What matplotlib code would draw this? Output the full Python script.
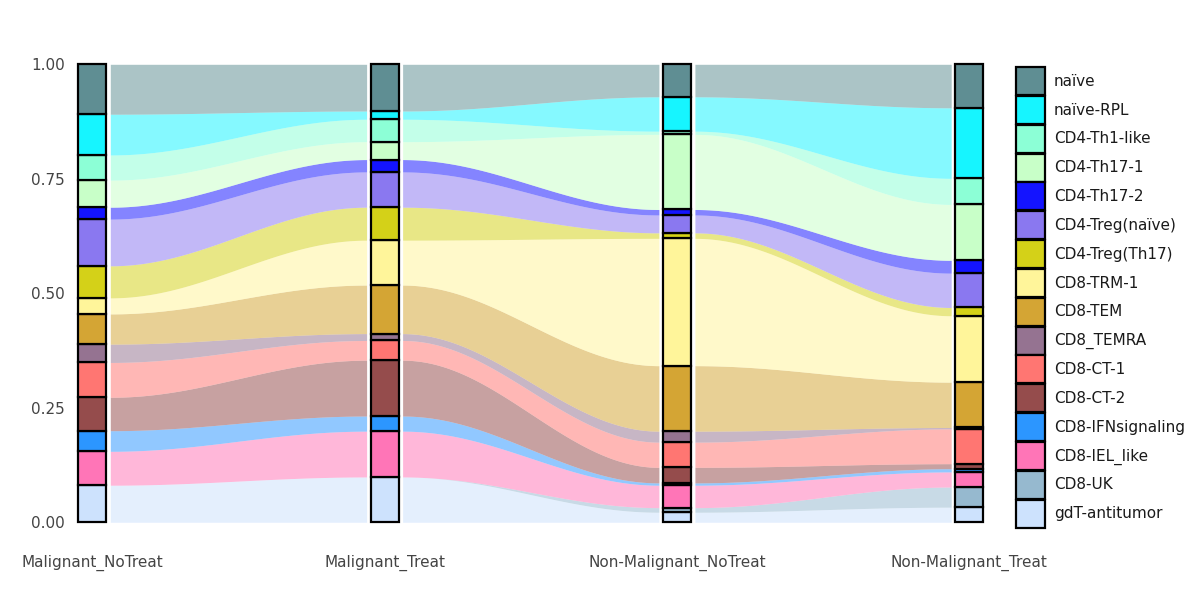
#alluvial-style composition of T cell subsets across the four groups

import numpy as np
import matplotlib.pyplot as plt
from matplotlib.patches import Patch

## data
groups = ['Malignant_NoTreat', 'Malignant_Treat', 'Non-Malignant_NoTreat', 'Non-Malignant_Treat']

# listed top of the stack first (same as legend order)
cell_types = ['naïve', 'naïve-RPL', 'CD4-Th1-like', 'CD4-Th17-1', 'CD4-Th17-2',
              'CD4-Treg(naïve)', 'CD4-Treg(Th17)', 'CD8-TRM-1', 'CD8-TEM', 'CD8_TEMRA',
              'CD8-CT-1', 'CD8-CT-2', 'CD8-IFNsignaling', 'CD8-IEL_like', 'CD8-UK',
              'gdT-antitumor']

colors = ['#5F8E93', '#16F5FF', '#8CFFD6', '#C8FFC8', '#1414FF',
          '#8A78F0', '#D4D118', '#FFF59A', '#D4A534', '#957391',
          '#FF7672', '#954C4C', '#2C96FF', '#FF75B7', '#96B9CF',
          '#CDE2FD']

# proportions per group, same order as cell_types
malignant_notreat = [0.109, 0.089, 0.055, 0.059, 0.026, 0.102, 0.070, 0.035,
                     0.066, 0.040, 0.076, 0.073, 0.045, 0.074, 0.000, 0.081]
malignant_treat = [0.102, 0.018, 0.049, 0.039, 0.027, 0.077, 0.072, 0.098,
                   0.106, 0.015, 0.043, 0.122, 0.033, 0.100, 0.000, 0.099]
nonmalignant_notreat = [0.071, 0.075, 0.007, 0.164, 0.012, 0.039, 0.012, 0.278,
                        0.143, 0.024, 0.055, 0.034, 0.005, 0.049, 0.010, 0.022]
nonmalignant_treat = [0.095, 0.154, 0.057, 0.122, 0.028, 0.075, 0.018, 0.145,
                      0.099, 0.003, 0.076, 0.011, 0.007, 0.033, 0.044, 0.033]

props = np.array([malignant_notreat, malignant_treat,
                  nonmalignant_notreat, nonmalignant_treat])  # groups x types

## stacking (bottom = last type)
props_bu = props[:, ::-1]
tops = np.cumsum(props_bu, axis=1)
bottoms = tops - props_bu
colors_bu = colors[::-1]

## figure
fig = plt.figure(figsize=(12, 6), dpi=100)
ax = fig.add_axes([70 / 1200, 77.7 / 600, 930 / 1200, 458 / 600])

xpos = np.arange(len(groups))
bar_w = 0.096
flow_gap = 0.0616

# flows between neighbouring bars
for i in range(len(groups) - 1):
    xa = xpos[i] + flow_gap
    xb = xpos[i + 1] - flow_gap
    xs = np.linspace(xa, xb, 200)
    s = (1 - np.cos(np.pi * (xs - xa) / (xb - xa))) / 2
    for k in range(len(colors_bu)):
        lo = bottoms[i, k] + (bottoms[i + 1, k] - bottoms[i, k]) * s
        hi = tops[i, k] + (tops[i + 1, k] - tops[i, k]) * s
        ax.fill_between(xs, lo, hi, color=colors_bu[k], alpha=0.52, linewidth=0, zorder=1)

# stacked bars
for i in range(len(groups)):
    for k in range(len(colors_bu)):
        if props_bu[i, k] <= 0:
            continue
        ax.bar(xpos[i], props_bu[i, k], bottom=bottoms[i, k], width=bar_w,
               color=colors_bu[k], edgecolor='black', linewidth=1.6, zorder=3,
               clip_on=False)

ax.set_xlim((70 - 92.3) / 292.3, (1000 - 92.3) / 292.3)
ax.set_ylim(0, 1)
ax.set_yticks([0, 0.25, 0.5, 0.75, 1.0])
ax.set_yticklabels(['0.00', '0.25', '0.50', '0.75', '1.00'])
ax.tick_params(axis='y', length=0, pad=3.6, labelsize=11, labelcolor='#444444')
ax.set_xticks([])
for sp in ax.spines.values():
    sp.set_visible(False)

# group labels under the bars
for x, name in zip(xpos, groups):
    ax.text(x, -0.0976, name, transform=ax.get_xaxis_transform(),
            ha='center', va='baseline', fontsize=11, color='#444444')

## legend
handles = [Patch(facecolor=c, edgecolor='black', linewidth=1.6) for c in colors]
fig.legend(handles, cell_types, loc='upper left',
           bbox_to_anchor=(1016 / 1200, 1 - 67 / 600), frameon=False,
           fontsize=11, borderpad=0, borderaxespad=0,
           handlelength=1.9, handleheight=2.45, labelspacing=0.05,
           handletextpad=0.59, labelcolor='#1a1a1a')

plt.savefig('out.png', dpi=100)
